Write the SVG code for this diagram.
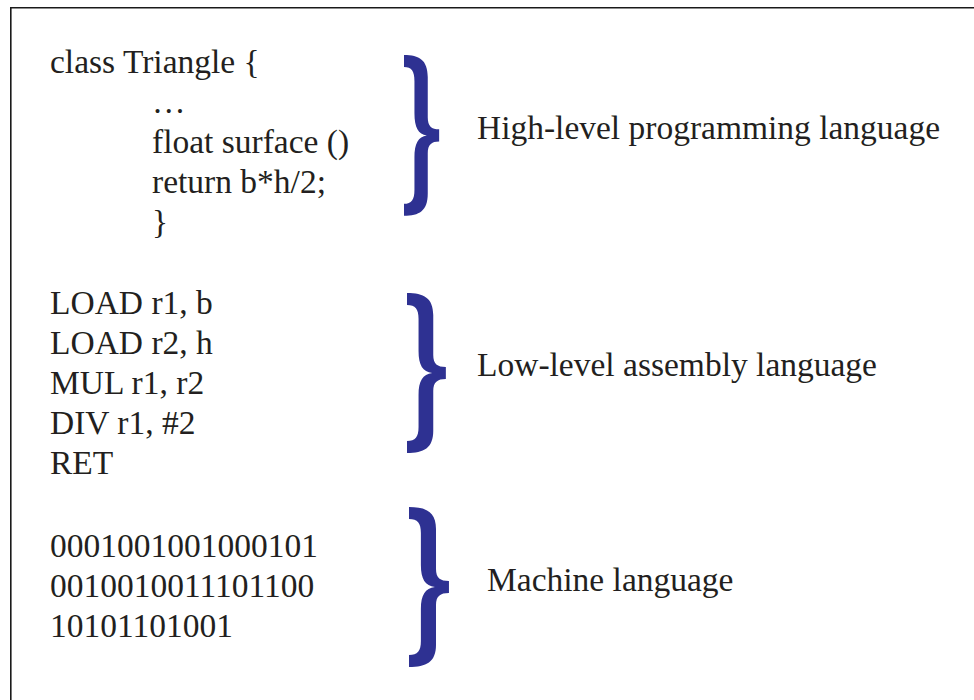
<svg xmlns="http://www.w3.org/2000/svg" xmlns:xlink="http://www.w3.org/1999/xlink" width="974" height="700" viewBox="0 0 974 700">
  <style>
    .code, .label { font-family: "Liberation Serif", "Times New Roman", serif; font-size: 33.5px; fill: #231f20; }
    .brace { fill: #2e3192; }
    .frame { fill: none; stroke: #1a1a1a; stroke-width: 1.6; }
  </style>
  <defs>
    <!-- curly brace, tips at x=0, point at x=37, 160 high -->
    <path id="brace" class="brace" d="M0,0 C16,0 25,5 25,22 L25,62 C25,71 29,74 37,74 L37,86 C29,86 25,89 25,98 L25,138 C25,155 16,160 0,160 L0,148 C8,148 11,144 11,134 L11,102 C11,88 15,81 24,80 C15,79 11,72 11,58 L11,26 C11,16 8,12 0,12 Z"/>
  </defs>

  <rect width="974" height="700" fill="#ffffff"/>
  <!-- outer frame, running off the right and bottom edges -->
  <path class="frame" d="M10.8,700 V7.8 H974"/>

  <g id="high-level">
    <text class="code" x="50" y="73">class Triangle {</text>
    <text class="code" x="152" y="113">…</text>
    <text class="code" x="152" y="153">float surface ()</text>
    <text class="code" x="152" y="193">return b*h/2;</text>
    <text class="code" x="152" y="233">}</text>
    <use xlink:href="#brace" href="#brace" transform="translate(404,55) scale(0.95,1.005)"/>
    <text class="label" x="477" y="139" textLength="463" lengthAdjust="spacingAndGlyphs">High-level programming language</text>
  </g>

  <g id="assembly">
    <text class="code" x="50" y="314">LOAD r1, b</text>
    <text class="code" x="50" y="354">LOAD r2, h</text>
    <text class="code" x="50" y="394">MUL r1, r2</text>
    <text class="code" x="50" y="434">DIV r1, #2</text>
    <text class="code" x="50" y="474">RET</text>
    <use xlink:href="#brace" href="#brace" transform="translate(407,293) scale(1.05,1)"/>
    <text class="label" x="477" y="376" textLength="400" lengthAdjust="spacingAndGlyphs">Low-level assembly language</text>
  </g>

  <g id="machine">
    <text class="code" x="50" y="557">0001001001000101</text>
    <text class="code" x="50" y="597">0010010011101100</text>
    <text class="code" x="50" y="637">10101101001</text>
    <use xlink:href="#brace" href="#brace" transform="translate(409,507) scale(1.08,1)"/>
    <text class="label" x="487" y="591">Machine language</text>
  </g>
</svg>
